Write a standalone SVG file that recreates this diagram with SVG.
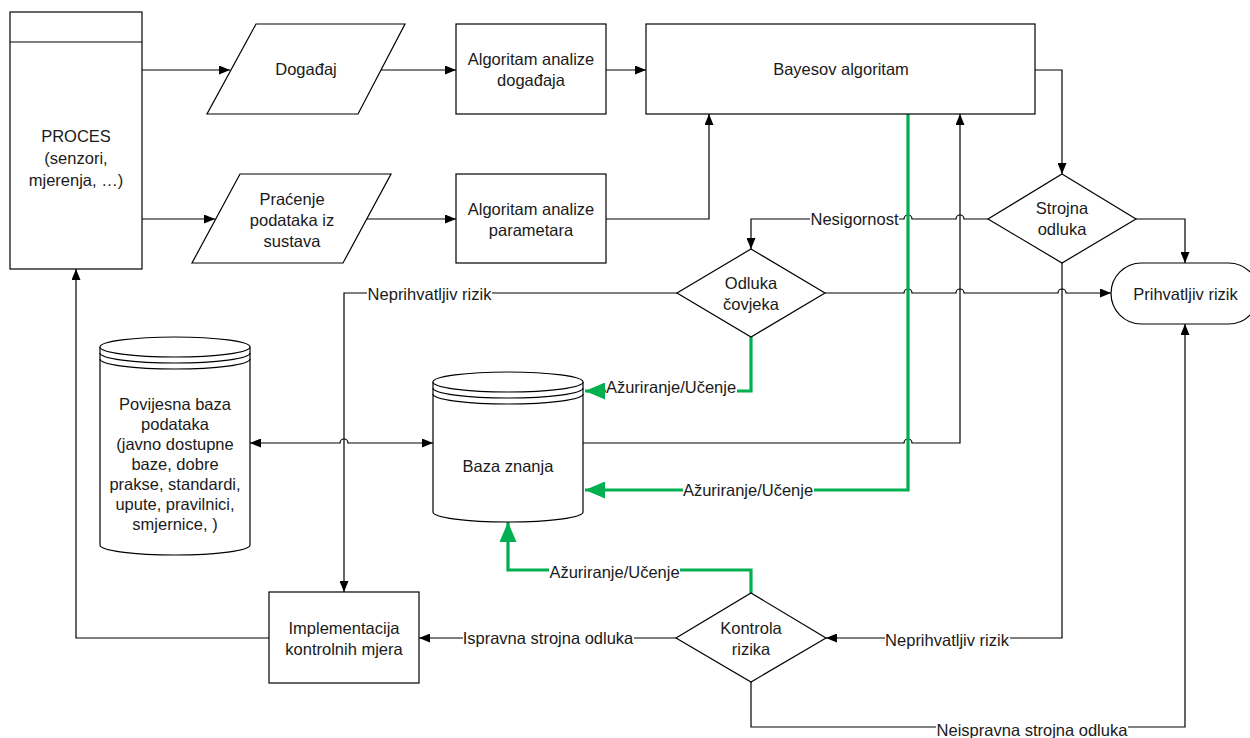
<svg xmlns="http://www.w3.org/2000/svg" width="1250" height="738" viewBox="0 0 1250 738">
<style>
.s{fill:#fff;stroke:#000;stroke-width:1.2}
.t{font-family:"Liberation Sans",Arial,sans-serif;font-size:16.5px;fill:#1a1a1a;text-anchor:middle}
.c{fill:none;stroke:#000;stroke-width:1.2}
.g{fill:none;stroke:#00B050;stroke-width:3.2}
.bg{fill:#fff;stroke:none}
</style>
<defs>
<marker id="a" viewBox="0 0 11 9" refX="11" refY="4.5" markerWidth="11" markerHeight="9" markerUnits="userSpaceOnUse" orient="auto-start-reverse"><path d="M0,0L11,4.5L0,9z" fill="#000"/></marker>
<marker id="ga" viewBox="0 0 20 17" refX="20" refY="8.5" markerWidth="20" markerHeight="17" markerUnits="userSpaceOnUse" orient="auto"><path d="M0,0L20,8.5L0,17z" fill="#00B050"/></marker>
</defs>
<rect width="1250" height="738" fill="#fff"/>

<g id="connectors">
<path class="c" d="M142,70H230" marker-end="url(#a)"/>
<path class="c" d="M142,219H215" marker-end="url(#a)"/>
<path class="c" d="M381,70H456" marker-end="url(#a)"/>
<path class="c" d="M606,70H646" marker-end="url(#a)"/>
<path class="c" d="M367,219H456" marker-end="url(#a)"/>
<path class="c" d="M606,219H709V114" marker-end="url(#a)"/>
<path class="c" d="M1035,70H1062V174" marker-end="url(#a)"/>
<path class="c" d="M988,219H964a4,4 0 0 0 -8,0H912a4,4 0 0 0 -8,0H751V249" marker-end="url(#a)"/>
<path class="c" d="M1136,219H1185V263" marker-end="url(#a)"/>
<path class="c" d="M825,293H904a4,4 0 0 1 8,0H956a4,4 0 0 1 8,0H1058a4,4 0 0 1 8,0H1111" marker-end="url(#a)"/>
<path class="c" d="M677,293H344V592" marker-end="url(#a)"/>
<path class="c" d="M583,443H904a4,4 0 0 1 8,0H960V114" marker-end="url(#a)"/>
<path class="c" d="M250,443H340a4,4 0 0 1 8,0H433" marker-start="url(#a)" marker-end="url(#a)"/>
<path class="c" d="M1062,263V638H826" marker-end="url(#a)"/>
<path class="c" d="M676,638H419" marker-end="url(#a)"/>
<path class="c" d="M751,682V727H1185V324" marker-end="url(#a)"/>
<path class="c" d="M269,638H76V269" marker-end="url(#a)"/>
<path class="g" d="M751,337V391H585" marker-end="url(#ga)"/>
<path class="g" d="M908,114V490H585" marker-end="url(#ga)"/>
<path class="g" d="M751,593V570H508V522" marker-end="url(#ga)"/>
<rect class="bg" x="810" y="210" width="89" height="19"/>
<text class="t" x="854.5" y="225">Nesigornost</text>
<rect class="bg" x="367" y="285" width="125" height="19"/>
<text class="t" x="429.5" y="300">Neprihvatljiv rizik</text>
<rect class="bg" x="606" y="382" width="131" height="19"/>
<text class="t" x="671" y="393">Ažuriranje/Učenje</text>
<rect class="bg" x="683" y="481" width="131" height="19"/>
<text class="t" x="748" y="496">Ažuriranje/Učenje</text>
<rect class="bg" x="549" y="561" width="131" height="19"/>
<text class="t" x="614.5" y="578">Ažuriranje/Učenje</text>
<rect class="bg" x="463" y="629" width="171" height="19"/>
<text class="t" x="548" y="644">Ispravna strojna odluka</text>
<rect class="bg" x="885" y="630" width="125" height="19"/>
<text class="t" x="947" y="646">Neprihvatljiv rizik</text>
<rect class="bg" x="936" y="720" width="192" height="18"/>
<text class="t" x="1032" y="736">Neispravna strojna odluka</text>
</g>

<g id="proces">
<rect class="s" x="10" y="12" width="132" height="257"/>
<path class="c" d="M10,42H142"/>
<text class="t" x="76" y="142">PROCES</text>
<text class="t" x="76" y="164">(senzori,</text>
<text class="t" x="76" y="186">mjerenja, …)</text>
</g>

<g id="dogadaj">
<path class="s" d="M256,24H405L358,114H207z"/>
<text class="t" x="306" y="75">Događaj</text>
</g>

<g id="algoritam-dogadaja">
<rect class="s" x="456" y="24" width="150" height="90"/>
<text class="t" x="531" y="65">Algoritam analize</text>
<text class="t" x="531" y="86">događaja</text>
</g>

<g id="bayes">
<rect class="s" x="646" y="24" width="389" height="90"/>
<text class="t" x="841" y="75">Bayesov algoritam</text>
</g>

<g id="pracenje">
<path class="s" d="M240,174H391L343,263H192z"/>
<text class="t" x="292" y="205">Praćenje</text>
<text class="t" x="292" y="226">podataka iz</text>
<text class="t" x="292" y="247">sustava</text>
</g>

<g id="algoritam-parametara">
<rect class="s" x="456" y="174" width="150" height="89"/>
<text class="t" x="531" y="215">Algoritam analize</text>
<text class="t" x="531" y="236">parametara</text>
</g>

<g id="strojna-odluka">
<path class="s" d="M1062,174L1136,219L1062,263L988,219z"/>
<text class="t" x="1062" y="214">Strojna</text>
<text class="t" x="1062" y="235">odluka</text>
</g>

<g id="odluka-covjeka">
<path class="s" d="M751,249L825,293L751,337L677,293z"/>
<text class="t" x="751" y="289">Odluka</text>
<text class="t" x="751" y="310">čovjeka</text>
</g>

<g id="prihvatljiv-rizik">
<rect class="s" x="1111" y="263" width="148" height="61" rx="30.5" ry="30.5"/>
<text class="t" x="1185.5" y="300">Prihvatljiv rizik</text>
</g>

<g id="povijesna-baza">
<path class="s" d="M100,347V545A75,10 0 0 0 250,545V347"/>
<ellipse class="s" cx="175" cy="347" rx="75" ry="10"/>
<path class="c" d="M100,353A75,10 0 0 0 250,353M100,359A75,10 0 0 0 250,359"/>
<text class="t" x="175" y="410">Povijesna baza</text>
<text class="t" x="175" y="430">podataka</text>
<text class="t" x="175" y="450">(javno dostupne</text>
<text class="t" x="175" y="470">baze, dobre</text>
<text class="t" x="175" y="490">prakse, standardi,</text>
<text class="t" x="175" y="510">upute, pravilnici,</text>
<text class="t" x="175" y="530">smjernice, )</text>
</g>

<g id="baza-znanja">
<path class="s" d="M433,382V512A75,10 0 0 0 583,512V382"/>
<ellipse class="s" cx="508" cy="382" rx="75" ry="10"/>
<path class="c" d="M433,388A75,10 0 0 0 583,388M433,394A75,10 0 0 0 583,394"/>
<text class="t" x="508" y="472">Baza znanja</text>
</g>

<g id="kontrola-rizika">
<path class="s" d="M751,593L826,638L751,682L676,638z"/>
<text class="t" x="751" y="634">Kontrola</text>
<text class="t" x="751" y="655">rizika</text>
</g>

<g id="implementacija">
<rect class="s" x="269" y="592" width="150" height="91"/>
<text class="t" x="344" y="634">Implementacija</text>
<text class="t" x="344" y="655">kontrolnih mjera</text>
</g>
</svg>
